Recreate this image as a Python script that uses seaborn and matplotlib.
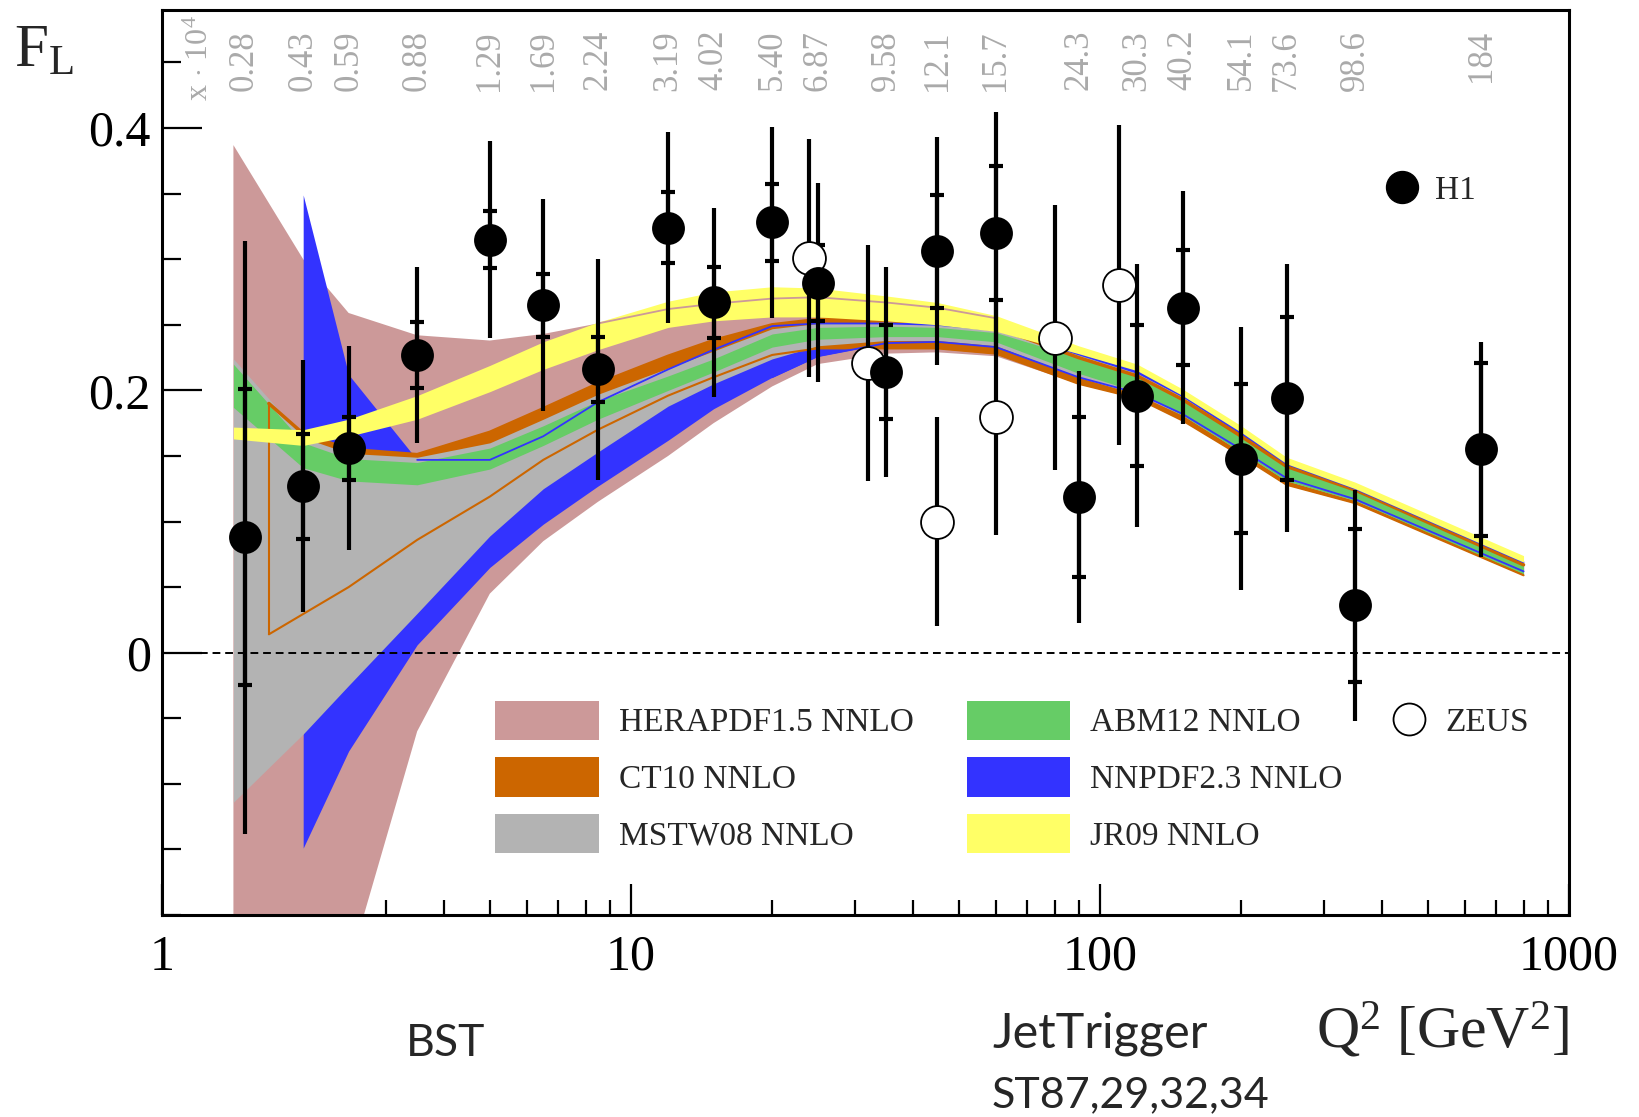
import numpy as np
import pandas as pd
import matplotlib
matplotlib.use("Agg")
import matplotlib.pyplot as plt
import seaborn as sns
from matplotlib.patches import Patch
from matplotlib.lines import Line2D
from matplotlib.ticker import FixedLocator, FixedFormatter, MultipleLocator, LogLocator, NullFormatter
import matplotlib.transforms as mtransforms

# ---------------- data ----------------
h1_q2 = [1.5, 2.0, 2.5, 3.5, 5.0, 6.5, 8.5, 12, 15, 20, 25, 35, 45, 60, 90, 120, 150, 200, 250, 350, 650]
h1_fl = [0.088, 0.127, 0.156, 0.227, 0.315, 0.265, 0.216, 0.324, 0.267, 0.328, 0.282, 0.214, 0.306, 0.320,
         0.119, 0.196, 0.263, 0.148, 0.194, 0.036, 0.155]
h1_stat = [0.113, 0.040, 0.024, 0.025, 0.022, 0.024, 0.025, 0.027, 0.027, 0.029, 0.029, 0.036, 0.043, 0.051,
           0.061, 0.054, 0.044, 0.057, 0.062, 0.058, 0.066]
h1_tot = [0.226, 0.096, 0.078, 0.067, 0.075, 0.081, 0.084, 0.073, 0.072, 0.073, 0.076, 0.080, 0.087, 0.092,
          0.096, 0.100, 0.089, 0.100, 0.102, 0.088, 0.082]
x_labels = ["0.28", "0.43", "0.59", "0.88", "1.29", "1.69", "2.24", "3.19", "4.02", "5.40", "6.87", "9.58",
            "12.1", "15.7", "24.3", "30.3", "40.2", "54.1", "73.6", "98.6", "184"]

zeus_q2 = [24, 32, 45, 60, 80, 110]
zeus_fl = [0.301, 0.221, 0.100, 0.180, 0.240, 0.280]
zeus_err = [0.091, 0.090, 0.080, 0.090, 0.101, 0.122]

band_q2 = [1.42, 2, 2.5, 3.5, 5, 6.5, 8.5, 12, 15, 20, 25, 35, 45, 60, 90, 120, 150, 200, 250, 350, 800]

herapdf_lo = [-0.75, -0.45, -0.24, -0.06, 0.045, 0.085, 0.115, 0.15, 0.175, 0.203, 0.22, 0.228, 0.229, 0.226,
              0.205, 0.194, 0.178, 0.15, 0.128, 0.114, 0.059]
herapdf_hi = [0.387, 0.30, 0.259, 0.242, 0.238, 0.243, 0.251, 0.262, 0.266, 0.270, 0.271, 0.267, 0.263, 0.255,
              0.232, 0.216, 0.198, 0.170, 0.146, 0.127, 0.071]

nnpdf_q2 = [2, 2.5, 3.5, 5, 6.5, 8.5, 12, 15, 20, 25, 35, 45, 60, 90, 120, 150, 200, 250, 350, 800]
nnpdf_lo = [-0.149, -0.075, 0.006, 0.065, 0.098, 0.127, 0.162, 0.186, 0.21, 0.226, 0.236, 0.237, 0.233, 0.21,
            0.198, 0.182, 0.155, 0.133, 0.117, 0.062]
nnpdf_hi = [0.349, 0.212, 0.147, 0.147, 0.165, 0.191, 0.216, 0.231, 0.249, 0.251, 0.251, 0.250, 0.246, 0.229,
            0.215, 0.196, 0.168, 0.144, 0.125, 0.069]

ct10_q2 = [1.69, 2, 2.5, 3.5, 5, 6.5, 8.5, 12, 15, 20, 25, 35, 45, 60, 90, 120, 150, 200, 250, 350, 800]
ct10_lo = [0.014, 0.0295, 0.05, 0.086, 0.119, 0.147, 0.17, 0.196, 0.21, 0.227, 0.232, 0.232, 0.232, 0.228,
           0.205, 0.194, 0.177, 0.150, 0.128, 0.114, 0.059]
ct10_hi = [0.19, 0.167, 0.155, 0.151, 0.168, 0.186, 0.205, 0.226, 0.238, 0.250, 0.254, 0.255, 0.254, 0.248,
           0.225, 0.211, 0.193, 0.165, 0.142, 0.124, 0.067]

mstw_lo = [-0.114, -0.062, -0.025, 0.030, 0.089, 0.125, 0.153, 0.188, 0.205, 0.224, 0.234, 0.238, 0.238, 0.234,
           0.210, 0.197, 0.181, 0.153, 0.131, 0.116, 0.061]
mstw_hi = [0.224, 0.164, 0.152, 0.149, 0.160, 0.178, 0.197, 0.217, 0.230, 0.247, 0.251, 0.252, 0.251, 0.247,
           0.227, 0.213, 0.195, 0.166, 0.143, 0.125, 0.068]

abm_lo = [0.187, 0.141, 0.131, 0.128, 0.140, 0.158, 0.178, 0.200, 0.214, 0.233, 0.239, 0.241, 0.241, 0.237,
          0.213, 0.199, 0.181, 0.153, 0.131, 0.116, 0.060]
abm_hi = [0.220, 0.160, 0.148, 0.145, 0.156, 0.173, 0.192, 0.211, 0.224, 0.243, 0.248, 0.249, 0.248, 0.244,
          0.225, 0.211, 0.193, 0.165, 0.142, 0.124, 0.067]

jr09_lo = [0.163, 0.158, 0.165, 0.178, 0.199, 0.216, 0.231, 0.248, 0.253, 0.256, 0.256, 0.253, 0.250, 0.245,
           0.228, 0.215, 0.196, 0.168, 0.144, 0.125, 0.069]
jr09_hi = [0.172, 0.170, 0.178, 0.196, 0.219, 0.237, 0.252, 0.268, 0.275, 0.279, 0.278, 0.272, 0.267, 0.257,
           0.234, 0.220, 0.201, 0.173, 0.149, 0.130, 0.074]

band_names = ["HERAPDF1.5 NNLO", "CT10 NNLO", "MSTW08 NNLO", "ABM12 NNLO", "NNPDF2.3 NNLO", "JR09 NNLO"]
c_hera, c_ct10, c_mstw, c_abm, c_nnpdf, c_jr09 = "#cc9999", "#cc6600", "#b3b3b3", "#66cc66", "#3333ff", "#ffff66"

# ---------------- style ----------------
sns.set_theme(style="ticks")
plt.rcParams['font.family'] = ['Liberation Serif', 'DejaVu Serif']
plt.rcParams['mathtext.fontset'] = 'custom'
plt.rcParams['mathtext.rm'] = 'Liberation Serif'
plt.rcParams['mathtext.it'] = 'Liberation Serif:italic'

W, H = 1640, 1117
fig = plt.figure(figsize=(W / 100, H / 100), dpi=100)
L, R, T, B = 162, 1569, 10, 915
ax = fig.add_axes([L / W, 1 - B / H, (R - L) / W, (B - T) / H])
ax.set_facecolor("white")
ax.set_xscale("log")
ax.set_xlim(1, 1000)
ax.set_ylim(-0.2, 0.49)

# ---------------- bands ----------------
ax.fill_between(band_q2, herapdf_lo, herapdf_hi, color=c_hera, lw=0, zorder=1)
ax.fill_between(nnpdf_q2, nnpdf_lo, nnpdf_hi, color=c_nnpdf, lw=0, zorder=2)
ax.fill_between(ct10_q2, ct10_lo, ct10_hi, color=c_ct10, lw=0, zorder=3)
ax.fill_between(band_q2, mstw_lo, mstw_hi, color=c_mstw, lw=0, zorder=4)
ax.fill_between(band_q2, abm_lo, abm_hi, color=c_abm, lw=0, zorder=5)
# CT10 outline
ax.plot(ct10_q2, ct10_lo, color=c_ct10, lw=1.5, zorder=6)
ax.plot([ct10_q2[0], ct10_q2[0]], [ct10_lo[0], ct10_hi[0]], color=c_ct10, lw=1.5, zorder=6)
ax.plot(ct10_q2, ct10_hi, color=c_ct10, lw=2.5, zorder=6)
# NNPDF edges
ax.plot(nnpdf_q2[2:], nnpdf_hi[2:], color=c_nnpdf, lw=1.3, zorder=6)
ax.plot(nnpdf_q2[8:], nnpdf_lo[8:], color=c_nnpdf, lw=1.3, zorder=6)
ax.fill_between(band_q2, jr09_lo, jr09_hi, color=c_jr09, lw=0, zorder=7)
ax.plot(band_q2[6:14], herapdf_hi[6:14], color=c_hera, lw=1.3, zorder=8)

ax.axhline(0, color="black", lw=1.4, ls=(0, (4, 2.5)), zorder=9)

# ---------------- data points ----------------
df_h1 = pd.DataFrame({"Q2": h1_q2, "FL": h1_fl})
df_zeus = pd.DataFrame({"Q2": zeus_q2, "FL": zeus_fl})

ax.errorbar(zeus_q2, zeus_fl, yerr=zeus_err, fmt="none", ecolor="black", elinewidth=3, capsize=0, zorder=10)
ax.errorbar(h1_q2, h1_fl, yerr=h1_tot, fmt="none", ecolor="black", elinewidth=3, capsize=0, zorder=10)
ax.errorbar(h1_q2, h1_fl, yerr=h1_stat, fmt="none", ecolor="black", elinewidth=3, capsize=5, capthick=3, zorder=10)

msize = 560
sns.scatterplot(data=df_zeus, x="Q2", y="FL", ax=ax, s=msize, color="white", edgecolor="black",
                linewidth=1.3, zorder=11, legend=False)
sns.scatterplot(data=df_h1, x="Q2", y="FL", ax=ax, s=msize, color="black", edgecolor="black",
                linewidth=0, zorder=12, legend=False)
ax.set_xlabel("")
ax.set_ylabel("")

# ---------------- axes ----------------
for s in ax.spines.values():
    s.set_linewidth(2.2)
    s.set_color("black")
    s.set_visible(True)

ax.yaxis.set_major_locator(FixedLocator([0, 0.2, 0.4]))
ax.yaxis.set_major_formatter(FixedFormatter(["0", "0.2", "0.4"]))
ax.yaxis.set_minor_locator(MultipleLocator(0.05))
ax.xaxis.set_major_locator(FixedLocator([1, 10, 100, 1000]))
ax.xaxis.set_major_formatter(FixedFormatter(["1", "10", "100", "1000"]))
ax.xaxis.set_minor_locator(LogLocator(base=10, subs=np.arange(2, 10)))
ax.xaxis.set_minor_formatter(NullFormatter())
ax.tick_params(axis="both", which="both", direction="in", top=False, right=False, colors="black",
               labelsize=36)
ax.tick_params(axis="y", which="major", length=29, width=1.6, pad=8)
ax.tick_params(axis="y", which="minor", length=14, width=1.6)
ax.tick_params(axis="x", which="major", length=22, width=1.6, pad=14)
ax.tick_params(axis="x", which="minor", length=11, width=1.6)
ax.grid(False)

# top x-value labels
trans = mtransforms.blended_transform_factory(ax.transData, ax.transAxes)
for q, lab in zip(h1_q2, x_labels):
    ax.text(q, 0.978, lab, transform=trans, rotation=90, ha="center", va="top", fontsize=25,
            color="#aaaaaa", zorder=20)
ax.text(0.027, 0.994, r"x $\cdot$ 10$^{4}$", transform=ax.transAxes, rotation=90, ha="center", va="top",
        fontsize=23, color="#aaaaaa")

# ---------------- legends ----------------
band_handles = [Patch(facecolor=c, edgecolor="none") for c in [c_hera, c_ct10, c_mstw, c_abm, c_nnpdf, c_jr09]]
leg1 = ax.legend(band_handles, band_names, ncol=2, loc="upper left", bbox_to_anchor=(0.237, 0.237),
                 frameon=False, fontsize=24, handlelength=3.1, handleheight=1.44, handletextpad=0.6,
                 labelspacing=0.52, columnspacing=1.6, borderpad=0, borderaxespad=0)
ax.add_artist(leg1)
zeus_handle = Line2D([], [], marker="o", ls="none", markersize=23, markerfacecolor="white",
                     markeredgecolor="black", markeredgewidth=1.3)
leg2 = ax.legend([zeus_handle], ["ZEUS"], loc="upper left", bbox_to_anchor=(0.8756, 0.2298), frameon=False,
                 fontsize=24, handlelength=0.9, handletextpad=0.65, borderpad=0, borderaxespad=0)
ax.add_artist(leg2)
h1_handle = Line2D([], [], marker="o", ls="none", markersize=23, markerfacecolor="black",
                   markeredgecolor="black")
leg3 = ax.legend([h1_handle], ["H1"], loc="upper left", bbox_to_anchor=(0.8707, 0.8175), frameon=False,
                 fontsize=24, handlelength=0.9, handletextpad=0.55, borderpad=0, borderaxespad=0)

# ---------------- figure texts ----------------
fig.text(14 / W, 1 - 52 / H, r"$\mathregular{F_L}$", fontsize=44, ha="left", va="center")
fig.text(1569 / W, 1 - 1030 / H, r"$\mathregular{Q^2\ [GeV^2]}$", fontsize=43, ha="right", va="center")
fig.text(406 / W, 1 - 1043 / H, "BST", fontsize=32, ha="left", va="center", family=["Lato", "DejaVu Sans"])
fig.text(992 / W, 1 - 1034 / H, "JetTrigger", fontsize=35, ha="left", va="center", family=["Lato", "DejaVu Sans"])
fig.text(992 / W, 1 - 1095 / H, "ST87,29,32,34", fontsize=31, ha="left", va="center",
         family=["Lato", "DejaVu Sans"])

fig.savefig("out.png", dpi=100)
